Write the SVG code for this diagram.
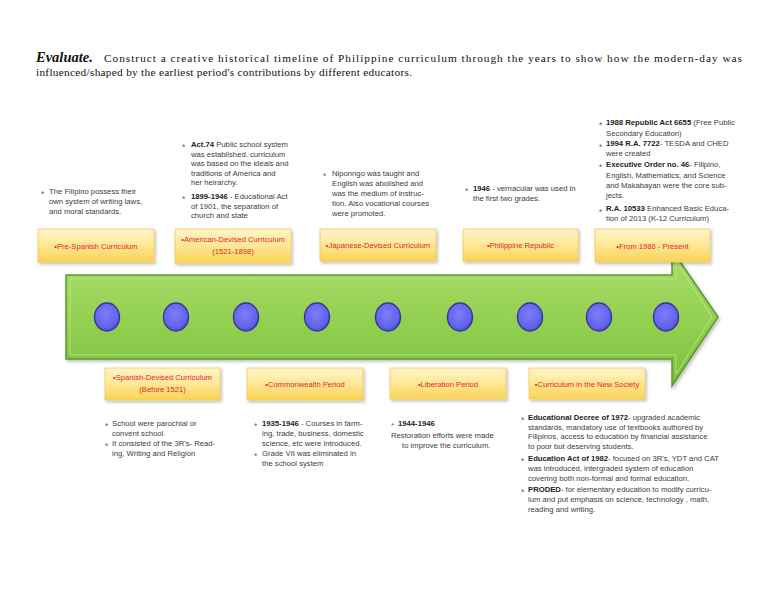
<svg xmlns="http://www.w3.org/2000/svg" width="768" height="594" viewBox="0 0 768 594">
<defs>
<linearGradient id="boxg" x1="0" y1="0" x2="0" y2="1">
<stop offset="0" stop-color="#fff4c8"/>
<stop offset="0.45" stop-color="#fee99a"/>
<stop offset="1" stop-color="#fbd354"/>
</linearGradient>
<linearGradient id="arrg" x1="0" y1="0" x2="0" y2="1">
<stop offset="0" stop-color="#a9dc6c"/>
<stop offset="0.5" stop-color="#94d152"/>
<stop offset="1" stop-color="#7cbd3c"/>
</linearGradient>
<radialGradient id="dotg" cx="0.45" cy="0.4" r="0.6">
<stop offset="0" stop-color="#7d7dfa"/>
<stop offset="0.8" stop-color="#6262ee"/>
<stop offset="1" stop-color="#4a4acc"/>
</radialGradient>
<filter id="sh" x="-10%" y="-20%" width="130%" height="150%">
<feDropShadow dx="1.5" dy="2" stdDeviation="1.5" flood-color="#000" flood-opacity="0.25"/>
</filter>
</defs>
<style>
.box{fill:url(#boxg);stroke:#efc85a;stroke-width:0.8;filter:url(#sh)}
.bl{font-family:"Liberation Sans",Arial,sans-serif;font-size:7.6px;fill:#e3262b;text-anchor:middle}
.t{font-family:"Liberation Sans",Arial,sans-serif;font-size:7.7px;fill:#3c3c3c}
.b{font-weight:bold;fill:#222}
.bu{font-family:"Liberation Sans",Arial,sans-serif;font-size:8.5px;fill:#666}
.dot{fill:url(#dotg);stroke:#35359a;stroke-width:1.4}
.ttl{font-family:"Liberation Serif","Times New Roman",serif;font-size:11.3px;fill:#111}
</style>
<rect width="768" height="594" fill="#fff"/>

<g id="title">
<text class="ttl" x="36" y="62" style="font-size:14.5px;font-weight:bold;font-style:italic">Evaluate.</text>
<text class="ttl" x="104" y="62" textLength="638" lengthAdjust="spacing">Construct a creative historical timeline of Philippine curriculum through the years to show how the modern-day was</text>
<text class="ttl" x="36" y="76" textLength="376" lengthAdjust="spacing">influenced/shaped by the earliest period's contributions by different educators.</text>
</g>

<g id="timeline-arrow">
<polygon points="66,275 672,275 672,250 718,317 672,386 672,359 66,359" fill="url(#arrg)" stroke="#5c9a2c" stroke-width="1.5" filter="url(#sh)"/>
<polygon points="70,279 676,279 676,262 712,317 676,374 676,355 70,355" fill="none" stroke="#c4ec92" stroke-width="1" opacity="0.7"/>
</g>

<g id="markers">
<ellipse class="dot" cx="107" cy="317" rx="12.5" ry="14"/>
<ellipse class="dot" cx="176" cy="317" rx="12.5" ry="14"/>
<ellipse class="dot" cx="246" cy="317" rx="12.5" ry="14"/>
<ellipse class="dot" cx="317" cy="317" rx="12.5" ry="14"/>
<ellipse class="dot" cx="388" cy="317" rx="12.5" ry="14"/>
<ellipse class="dot" cx="460" cy="317" rx="12.5" ry="14"/>
<ellipse class="dot" cx="530" cy="317" rx="12.5" ry="14"/>
<ellipse class="dot" cx="599" cy="317" rx="12.5" ry="14"/>
<ellipse class="dot" cx="666" cy="317" rx="12.5" ry="14"/>
</g>

<g id="pre-spanish">
<rect class="box" x="38" y="229" width="116" height="33"/>
<text class="bl" x="96" y="248.5">•Pre-Spanish Curriculum</text>
<text class="bu" x="41" y="197">*</text>
<text class="t" x="49" y="194">The Filipino possess their</text>
<text class="t" x="49" y="204">own system of writing laws,</text>
<text class="t" x="49" y="214">and moral standards.</text>
</g>

<g id="american">
<rect class="box" x="175" y="229" width="116" height="34"/>
<text class="bl" x="233" y="242">•American-Devised Curriculum</text>
<text class="bl" x="233" y="254">(1521-1898)</text>
<text class="bu" x="182" y="150">*</text>
<text class="t" x="191" y="147"><tspan class="b">Act.74</tspan> Public school system</text>
<text class="t" x="191" y="156.6">was established. curriculum</text>
<text class="t" x="191" y="166.2">was based on the ideals and</text>
<text class="t" x="191" y="175.8">traditions of America and</text>
<text class="t" x="191" y="185.4">her heirarchy.</text>
<text class="bu" x="182" y="202">*</text>
<text class="t" x="191" y="199"><tspan class="b">1899-1946</tspan> - Educational Act</text>
<text class="t" x="191" y="208.6">of 1901, the separation of</text>
<text class="t" x="191" y="218.2">church and state</text>
</g>

<g id="japanese">
<rect class="box" x="320" y="229" width="116" height="32"/>
<text class="bl" x="378" y="248">•Japanese-Devised Curriculum</text>
<text class="bu" x="323" y="179">*</text>
<text class="t" x="332" y="176">Niponngo was taught and</text>
<text class="t" x="332" y="186">English was abolished and</text>
<text class="t" x="332" y="196">was the medium of instruc-</text>
<text class="t" x="332" y="206">tion. Also vocational courses</text>
<text class="t" x="332" y="216">were promoted.</text>
</g>

<g id="philippine-republic">
<rect class="box" x="463" y="229" width="115" height="32"/>
<text class="bl" x="520.5" y="248">•Philippine Republic</text>
<text class="bu" x="465" y="194">*</text>
<text class="t" x="473" y="191"><tspan class="b">1946</tspan> - vernacular was used in</text>
<text class="t" x="473" y="201">the first two grades.</text>
</g>

<g id="from-1986">
<rect class="box" x="595" y="229" width="115" height="33"/>
<text class="bl" x="652.5" y="248.5">•From 1986 - Present</text>
<text class="bu" x="599" y="128">*</text>
<text class="t" x="606" y="124.7"><tspan class="b">1988 Republic Act 6655</tspan> (Free Public</text>
<text class="t" x="606" y="135.7">Secondary Education)</text>
<text class="bu" x="599" y="149.5">*</text>
<text class="t" x="606" y="146.3"><tspan class="b">1994 R.A. 7722</tspan>- TESDA and CHED</text>
<text class="t" x="606" y="156.3">were created</text>
<text class="bu" x="599" y="170">*</text>
<text class="t" x="606" y="167"><tspan class="b">Executive Order no. 46</tspan>- Filipino,</text>
<text class="t" x="606" y="178">English, Mathematics, and Science</text>
<text class="t" x="606" y="188">and Makabayan were the core sub-</text>
<text class="t" x="606" y="198">jects.</text>
<text class="bu" x="599" y="214.5">*</text>
<text class="t" x="606" y="211.3"><tspan class="b">R.A. 10533</tspan> Enhanced Basic Educa-</text>
<text class="t" x="606" y="221.3">tion of 2013 (K-12 Curriculum)</text>
</g>

<g id="spanish">
<rect class="box" x="105" y="368" width="115" height="32"/>
<text class="bl" x="162.5" y="380">•Spanish-Devised Curriculum</text>
<text class="bl" x="162.5" y="391.5">(Before 1521)</text>
<text class="bu" x="105" y="429">*</text>
<text class="t" x="112" y="426">School were parochial or</text>
<text class="t" x="112" y="436">convent school.</text>
<text class="bu" x="105" y="449">*</text>
<text class="t" x="112" y="446">It consisted of the 3R's- Read-</text>
<text class="t" x="112" y="456">ing, Writing and Religion</text>
</g>

<g id="commonwealth">
<rect class="box" x="247" y="368" width="116" height="32"/>
<text class="bl" x="305" y="387">•Commonwealth Period</text>
<text class="bu" x="254" y="429">*</text>
<text class="t" x="262" y="426"><tspan class="b">1935-1946</tspan> - Courses in farm-</text>
<text class="t" x="262" y="436">ing, trade, business, domestic</text>
<text class="t" x="262" y="446">science, etc were introduced.</text>
<text class="bu" x="254" y="459">*</text>
<text class="t" x="262" y="456">Grade VII was eliminated in</text>
<text class="t" x="262" y="466">the school system</text>
</g>

<g id="liberation">
<rect class="box" x="390" y="368" width="116" height="31"/>
<text class="bl" x="448" y="386.5">•Liberation Period</text>
<text class="bu" x="391" y="427.5" style="font-size:8px">*</text>
<text class="t" x="398" y="426"><tspan class="b">1944-1946</tspan></text>
<text class="t" x="391" y="437.5">Restoration efforts were made</text>
<text class="t" x="402" y="447.5">to improve the curriculum.</text>
</g>

<g id="new-society">
<rect class="box" x="529" y="368" width="116" height="31"/>
<text class="bl" x="587" y="386.5">•Curriculum in the New Society</text>
<text class="bu" x="521" y="423">*</text>
<text class="t" x="528" y="420"><tspan class="b">Educational Decree of 1972</tspan>- upgraded academic</text>
<text class="t" x="528" y="429.5">standards, mandatory use of textbooks authored by</text>
<text class="t" x="528" y="439">Filipinos, access to education by financial assistance</text>
<text class="t" x="528" y="449">to poor but deserving students.</text>
<text class="bu" x="521" y="464">*</text>
<text class="t" x="528" y="461"><tspan class="b">Education Act of 1982</tspan>- focused on 3R's, YDT and CAT</text>
<text class="t" x="528" y="470.5">was introduced, intergraded system of education</text>
<text class="t" x="528" y="480.5">covering both non-formal and formal education.</text>
<text class="bu" x="521" y="495">*</text>
<text class="t" x="528" y="492"><tspan class="b">PRODED</tspan>- for elementary education to modify curricu-</text>
<text class="t" x="528" y="502">lum and put emphasis on science, technology , math,</text>
<text class="t" x="528" y="512">reading and writing.</text>
</g>
</svg>
